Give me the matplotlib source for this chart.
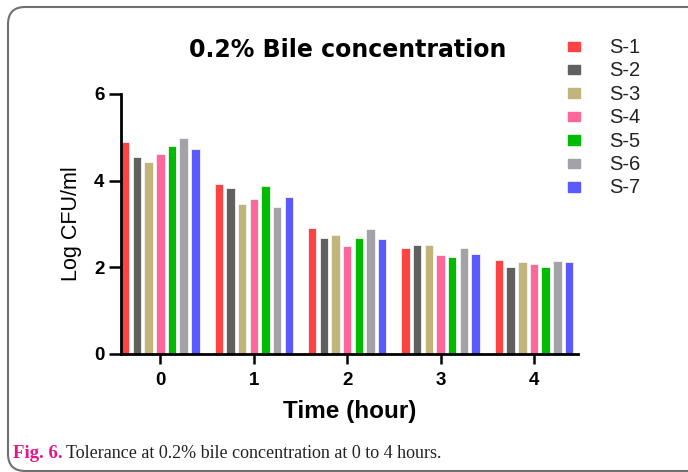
import numpy as np
import matplotlib.pyplot as plt
from matplotlib.patches import FancyBboxPatch, Rectangle

hours = [0, 1, 2, 3, 4]
strains = ['S-1', 'S-2', 'S-3', 'S-4', 'S-5', 'S-6', 'S-7']
colors = ['#FF4242', '#606060', '#C2B57C', '#FF6699', '#00BB00', '#A2A2A8', '#5A5AFF']

s1 = [4.89, 3.92, 2.91, 2.44, 2.18]
s2 = [4.55, 3.82, 2.68, 2.52, 2.01]
s3 = [4.42, 3.45, 2.75, 2.52, 2.12]
s4 = [4.62, 3.58, 2.49, 2.28, 2.08]
s5 = [4.79, 3.88, 2.68, 2.24, 2.01]
s6 = [4.99, 3.39, 2.88, 2.44, 2.15]
s7 = [4.72, 3.62, 2.65, 2.31, 2.12]
series = [s1, s2, s3, s4, s5, s6, s7]

plt.rcParams['font.family'] = ['Liberation Sans', 'DejaVu Sans']

fig = plt.figure(figsize=(6.88, 4.72), dpi=100)
ax = fig.add_axes([0.176, 0.25, 0.664, 0.551])

x = np.arange(len(hours))
step = 0.125
width = 0.09
for i, (name, vals) in enumerate(zip(strains, series)):
    ax.bar(x + (i - 3) * step, vals, width, color=colors[i],
           edgecolor='#f4f4f4', linewidth=0.6)

ax.set_xlim(-0.42, 4.47)
ax.set_ylim(0, 6)
ax.set_yticks([0, 2, 4, 6])
ax.set_xticks(x)
ax.set_xticklabels([str(h) for h in hours])
for side in ['top', 'right']:
    ax.spines[side].set_visible(False)
for side in ['left', 'bottom']:
    ax.spines[side].set_linewidth(2)
ax.tick_params(axis='y', width=1.8, length=9, labelsize=13.5, pad=3)
ax.tick_params(axis='x', width=1.8, length=7, labelsize=13.5, pad=6)
for lab in ax.get_xticklabels() + ax.get_yticklabels():
    lab.set_fontweight('bold')
ax.set_xlabel('Time (hour)', fontsize=17.5, fontweight='bold', labelpad=8)
ax.set_ylabel('Log CFU/ml', fontsize=15.5, labelpad=9)

fig.text(0.506, 0.895, '0.2% Bile concentration', ha='center', va='center',
         fontsize=17, fontweight='bold', family='DejaVu Sans')

# legend
for i, name in enumerate(strains):
    yy = 0.902 - i * 0.0497
    fig.patches.append(Rectangle((0.826, yy - 0.010), 0.017, 0.020,
                                 transform=fig.transFigure, color=colors[i]))
    fig.text(0.885, yy - 0.002, name, ha='left', va='center', fontsize=14.5, color='#222222')

# frame
frame = FancyBboxPatch((8 / 688, 1 - 471 / 472), 1.5, 464 / 472,
                       boxstyle='round,pad=0,rounding_size=0.025',
                       transform=fig.transFigure, fill=False,
                       edgecolor='#6f6f6f', linewidth=1.5,
                       mutation_aspect=688 / 472)
fig.patches.append(frame)

fig.text(13 / 688, 1 - 453 / 472, 'Fig. 6.', ha='left', va='center',
         fontsize=13.5, fontweight='bold', color='#E5168C', family='Liberation Serif')
fig.text(66 / 688, 1 - 453 / 472, 'Tolerance at 0.2% bile concentration at 0 to 4 hours.',
         ha='left', va='center', fontsize=13, color='#222222', family='Liberation Serif')

fig.savefig('out.png', dpi=100)
